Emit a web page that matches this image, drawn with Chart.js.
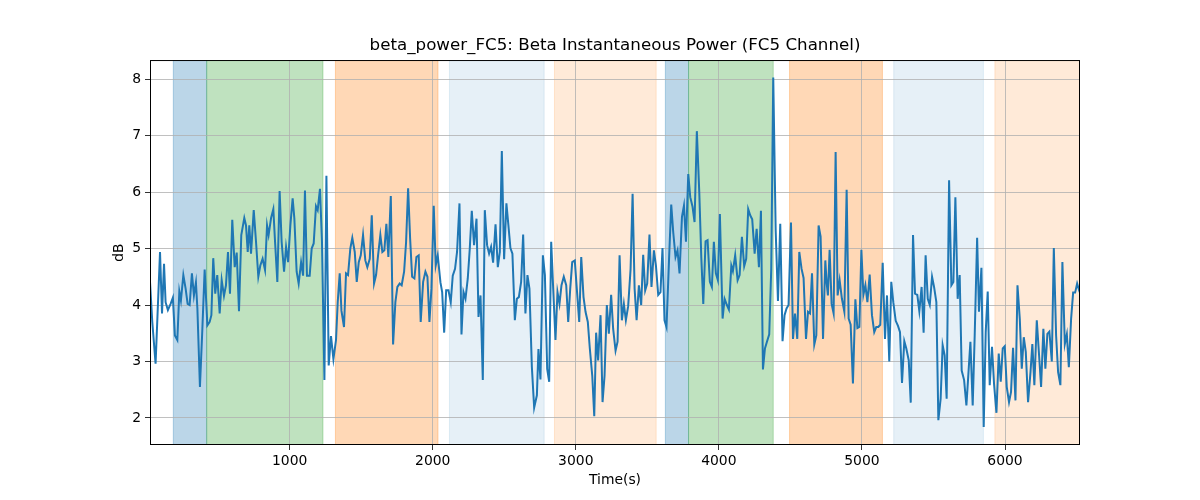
<!DOCTYPE html>
<html>
<head>
<meta charset="utf-8">
<script src="https://cdn.jsdelivr.net/npm/chart.js@4/dist/chart.umd.min.js"></script>
<style>
    body { margin: 0; background: #fff; }
</style>
</head>
<body>
<canvas id="powerChart" width="1200" height="500"></canvas>
<script>
// Time in seconds, beta power in dB
const times = [
    24, 40, 63, 94, 108, 122, 133, 149, 168, 184, 198, 215, 229, 240, 257, 273, 287, 301, 317, 331,
    345, 355, 373, 390, 406, 425, 441, 453, 466, 480, 494, 511, 525, 541, 555, 569, 583, 599, 616, 630,
    646, 662,
    683, 695, 707, 718, 730, 749, 765, 781, 795, 811, 828, 842, 853, 870, 886, 898, 914, 930, 944, 961,
    975, 989, 1005, 1021, 1033, 1049, 1063, 1080, 1094, 1107, 1121, 1140, 1154, 1168, 1184, 1196, 1212, 1226, 1243, 1257,
    1273, 1289, 1306, 1324, 1336, 1350,
    1362, 1380, 1394, 1408, 1424, 1438, 1455, 1469, 1483, 1497, 1513, 1529, 1543, 1560, 1574, 1590, 1604, 1618, 1634, 1648,
    1662, 1676, 1690, 1707, 1723, 1739, 1753, 1769, 1783, 1800, 1814, 1828, 1842, 1856, 1872, 1886, 1902, 1916, 1933, 1949,
    1963, 1977, 1991, 2007, 2021, 2035,
    2054, 2066, 2080, 2094, 2110, 2126, 2140, 2156, 2170, 2187, 2201, 2215, 2229, 2245, 2259, 2273, 2289, 2306, 2320, 2334,
    2350, 2364, 2380, 2394, 2408, 2422, 2439, 2455, 2469, 2483, 2499, 2515, 2529, 2543, 2557, 2574, 2588, 2602, 2618, 2632,
    2648, 2662, 2676, 2693, 2709,
    2728, 2739, 2753, 2770, 2784, 2800, 2814, 2828, 2842, 2858, 2872, 2886, 2900, 2916, 2933, 2947, 2961, 2975, 2993, 3007,
    3024, 3038, 3054, 3068, 3084, 3098, 3115, 3129, 3142, 3156, 3173, 3187, 3201, 3217, 3231, 3247, 3261, 3278, 3292, 3306,
    3322, 3336, 3350, 3366, 3383, 3397,
    3411, 3425, 3441, 3457, 3471, 3485, 3499, 3515, 3529, 3546, 3560, 3576, 3592, 3606, 3620, 3634, 3651, 3667, 3681, 3697,
    3711, 3725, 3742, 3756, 3770, 3786, 3800, 3816, 3830, 3846, 3863, 3877, 3891, 3907, 3921, 3937, 3951, 3965, 3979, 3993,
    4007, 4026, 4040, 4056, 4070,
    4087, 4098, 4114, 4131, 4145, 4161, 4177, 4191, 4205, 4219, 4233, 4250, 4264, 4280, 4294, 4308, 4322, 4336, 4352, 4366,
    4380, 4397, 4413, 4429, 4445, 4459, 4473, 4487, 4504, 4518, 4532, 4548, 4562, 4578, 4592, 4609, 4623, 4637, 4651, 4667,
    4681, 4697, 4711, 4728, 4744,
    4753, 4762, 4774, 4788, 4802, 4816, 4830, 4844, 4860, 4877, 4893, 4907, 4921, 4937, 4954, 4968, 4982, 4996, 5010, 5024,
    5038, 5054, 5070, 5086, 5100, 5114, 5128, 5145, 5161, 5175, 5191, 5205, 5219, 5236, 5252, 5266, 5280, 5296, 5310, 5327,
    5341, 5357, 5371, 5387, 5401, 5417, 5431, 5445,
    5460, 5474, 5490, 5504, 5520, 5534, 5550, 5564, 5578, 5592, 5609, 5625, 5639, 5653, 5669, 5683, 5697, 5714, 5730, 5744,
    5758, 5774, 5788, 5805, 5818, 5835, 5851, 5865, 5879, 5893, 5909, 5923, 5940, 5956, 5970, 5984, 5998, 6012, 6028, 6042,
    6056, 6073, 6087, 6103, 6117, 6131,
    6145, 6161, 6178, 6191, 6205, 6222, 6238, 6252, 6268, 6282, 6296, 6310, 6327, 6341, 6357, 6371, 6387, 6401, 6418, 6432,
    6446, 6462, 6476, 6490, 6504, 6518, 6524,
];

const betaPower = [
    4.41, 3.70, 2.96, 4.94, 3.85, 4.73, 4.05, 3.91, 4.02, 4.13, 3.46, 3.38, 4.24, 4.08, 4.53, 4.29, 4.02, 4.00, 4.56, 4.17,
    4.40, 3.95, 2.55, 3.58, 4.63, 3.64, 3.70, 3.82, 4.83, 4.20, 4.53, 3.85, 4.44, 4.16, 4.35, 4.94, 4.20, 5.51, 4.67, 4.93,
    3.89, 5.24,
    5.54, 5.41, 4.94, 5.41, 4.91, 5.68, 5.12, 4.50, 4.70, 4.82, 4.62, 5.41, 5.24, 5.54, 5.70, 5.12, 4.41, 6.02, 5.12, 4.59,
    5.03, 4.76, 5.41, 5.89, 5.53, 4.59, 4.38, 4.76, 4.52, 6.03, 4.52, 4.52, 5.00, 5.09, 5.75, 5.68, 6.06, 5.12, 2.67, 6.29,
    2.93, 3.45, 3.04, 3.38, 4.05, 4.56,
    3.90, 3.61, 4.56, 4.53, 5.00, 5.19, 4.94, 4.41, 4.76, 4.88, 5.24, 4.79, 4.67, 4.82, 5.59, 4.38, 4.53, 4.88, 5.24, 4.94,
    4.97, 5.44, 4.85, 5.93, 3.30, 4.05, 4.32, 4.38, 4.35, 4.59, 5.12, 6.07, 5.18, 4.50, 4.47, 4.85, 4.88, 3.70, 4.41, 4.59,
    4.50, 3.70, 4.29, 5.76, 4.70, 4.88,
    4.40, 4.23, 3.51, 4.26, 4.26, 4.05, 4.52, 4.64, 4.94, 5.80, 3.48, 4.23, 4.11, 4.47, 5.00, 5.67, 5.06, 5.53, 3.79, 4.17,
    2.67, 5.68, 5.06, 4.91, 5.03, 4.75, 5.43, 4.67, 4.94, 6.73, 4.81, 5.80, 5.41, 5.01, 4.91, 3.73, 4.11, 4.14, 4.41, 5.25,
    3.85, 4.53, 4.29, 2.90, 2.18,
    2.40, 3.22, 2.68, 4.88, 4.53, 2.87, 2.64, 5.12, 4.29, 3.38, 4.23, 4.02, 4.35, 4.50, 4.35, 3.70, 4.29, 4.76, 4.79, 4.29,
    3.70, 4.85, 4.14, 3.88, 3.70, 3.23, 2.75, 2.03, 3.51, 3.02, 3.82, 2.28, 2.75, 4.00, 3.49, 4.18, 3.58, 3.19, 3.35, 4.88,
    3.73, 4.02, 3.73, 3.98, 4.64, 5.97,
    4.29, 3.73, 4.35, 4.00, 4.89, 4.26, 4.38, 5.25, 4.32, 4.97, 4.70, 4.18, 4.23, 5.01, 3.73, 3.61, 4.76, 5.78, 5.29, 4.85,
    4.97, 4.56, 5.56, 5.76, 5.12, 6.32, 5.91, 5.74, 5.47, 7.08, 6.00, 4.85, 4.02, 5.13, 5.15, 4.41, 4.32, 5.12, 4.56, 4.44,
    5.61, 3.76, 4.11, 4.00, 3.92,
    4.70, 4.60, 4.88, 4.44, 4.53, 5.21, 4.69, 4.82, 5.70, 5.59, 5.52, 4.91, 5.35, 4.67, 5.67, 2.86, 3.23, 3.35, 3.48, 4.64,
    8.03, 5.32, 4.07, 5.44, 3.36, 3.82, 3.94, 4.00, 5.46, 3.40, 3.85, 3.40, 4.94, 4.64, 4.48, 3.40, 3.88, 3.85, 4.56, 3.30,
    3.46, 5.41, 5.21, 3.40, 4.79,
    4.40, 4.17, 4.98, 4.02, 3.85, 6.71, 4.17, 4.44, 4.11, 3.88, 6.04, 3.76, 3.65, 2.61, 4.10, 3.59, 3.61, 4.98, 4.18, 4.35,
    4.05, 4.54, 3.82, 3.52, 3.61, 3.61, 3.65, 4.75, 3.40, 4.17, 3.00, 4.41, 4.05, 3.72, 3.63, 3.52, 2.62, 3.36, 3.23, 3.02,
    2.27, 5.24, 4.20, 4.18, 3.89, 4.32, 3.51, 4.88,
    4.11, 4.00, 4.50, 4.32, 4.05, 1.96, 2.34, 3.29, 3.11, 2.34, 6.21, 4.35, 4.41, 5.91, 4.11, 4.53, 2.84, 2.67, 2.22, 2.78,
    3.35, 2.22, 3.46, 5.19, 3.88, 4.66, 1.84, 3.52, 4.24, 2.58, 3.26, 2.61, 2.09, 3.14, 2.64, 3.23, 3.27, 2.55, 2.28, 2.46,
    3.24, 2.31, 4.35, 3.76, 2.87, 3.43,
    3.17, 2.28, 2.81, 3.31, 2.58, 3.73, 3.11, 2.55, 3.58, 2.87, 3.49, 3.53, 3.00, 5.01, 3.46, 2.81, 2.58, 4.76, 3.31, 3.48,
    2.90, 3.76, 4.22, 4.22, 4.38, 4.26, 4.22,
];

// Shaded task phases (seconds)
const spanStart = [187, 420, 1320, 2117, 2851, 3626, 3788, 4494, 5222, 5929];
const spanEnd = [420, 1233, 2037, 2779, 3562, 3788, 4380, 5143, 5849, 6600];
const spanColors = [
    'rgba(31, 119, 180, 0.3)',
    'rgba(44, 160, 44, 0.3)',
    'rgba(255, 127, 14, 0.3)',
    'rgba(31, 119, 180, 0.11)',
    'rgba(255, 127, 14, 0.16)',
    'rgba(31, 119, 180, 0.3)',
    'rgba(44, 160, 44, 0.3)',
    'rgba(255, 127, 14, 0.3)',
    'rgba(31, 119, 180, 0.11)',
    'rgba(255, 127, 14, 0.16)',
];

const xTicks = [1000, 2000, 3000, 4000, 5000, 6000];
const yTicks = [2, 3, 4, 5, 6, 7, 8];

const font = 'DejaVu Sans';

const spanPlugin = {
    id: 'spans',
    beforeDraw(chart) {
        const { ctx, chartArea } = chart;
        const x = chart.scales.x;
        ctx.save();
        ctx.beginPath();
        ctx.rect(chartArea.left, chartArea.top, chartArea.width, chartArea.height);
        ctx.clip();
        spanStart.forEach((start, i) => {
            const x0 = x.getPixelForValue(start);
            const x1 = x.getPixelForValue(spanEnd[i]);
            ctx.fillStyle = spanColors[i];
            ctx.fillRect(x0, chartArea.top, x1 - x0, chartArea.height);
            ctx.strokeStyle = spanColors[i];
            ctx.lineWidth = 1;
            ctx.strokeRect(x0, chartArea.top, x1 - x0, chartArea.height);
        });
        ctx.restore();
    },
};

const framePlugin = {
    id: 'frame',
    afterDraw(chart) {
        const { ctx, chartArea } = chart;
        ctx.save();
        ctx.strokeStyle = '#000';
        ctx.lineWidth = 1;
        ctx.strokeRect(chartArea.left + 0.5, chartArea.top + 0.5, chartArea.width - 1, chartArea.height - 1);
        ctx.restore();
    },
};

const powerChart = document.getElementById('powerChart').getContext('2d');

new Chart(powerChart, {
    type: 'line',
    data: {
        datasets: [
            {
                label: 'beta_power_FC5',
                data: times.map((t, i) => ({ x: t, y: betaPower[i] })),
                borderColor: '#1f77b4',
                borderWidth: 2,
                pointRadius: 0,
                tension: 0,
                fill: false,
            },
        ],
    },
    options: {
        responsive: false,
        animation: false,
        layout: { padding: { left: 0, right: 120, top: 0, bottom: 0 } },
        plugins: {
            legend: { display: false },
            tooltip: { enabled: false },
            title: {
                display: true,
                text: 'beta_power_FC5: Beta Instantaneous Power (FC5 Channel)',
                color: '#000',
                fullSize: false,
                font: { family: font, size: 16.7, weight: 'normal' },
                padding: { top: 36, bottom: 4 },
            },
        },
        scales: {
            x: {
                type: 'linear',
                min: 24,
                max: 6524,
                afterBuildTicks: scale => {
                    scale.ticks = xTicks.map(v => ({ value: v }));
                },
                afterFit: scale => {
                    scale.height = 55;
                },
                ticks: {
                    color: '#000',
                    font: { family: font, size: 13.9 },
                    padding: 3,
                    maxRotation: 0,
                    callback: v => String(v),
                },
                grid: {
                    color: '#b0b0b0',
                    lineWidth: 0.8,
                    tickColor: '#000',
                    tickLength: 5,
                },
                border: { display: false },
                title: {
                    display: true,
                    text: 'Time(s)',
                    color: '#000',
                    font: { family: font, size: 13.9 },
                    padding: { top: 0, bottom: 11 },
                },
            },
            y: {
                type: 'linear',
                min: 1.52,
                max: 8.34,
                afterBuildTicks: scale => {
                    scale.ticks = yTicks.map(v => ({ value: v }));
                },
                afterFit: scale => {
                    scale.width = 150;
                },
                ticks: {
                    color: '#000',
                    font: { family: font, size: 13.9 },
                    padding: 4,
                    callback: v => String(v),
                },
                grid: {
                    color: '#b0b0b0',
                    lineWidth: 0.8,
                    tickColor: '#000',
                    tickLength: 5,
                },
                border: { display: false },
                title: {
                    display: true,
                    text: 'dB',
                    color: '#000',
                    font: { family: font, size: 13.9 },
                    padding: { top: 111, bottom: 0 },
                },
            },
        },
    },
    plugins: [spanPlugin, framePlugin],
});
</script>
</body>
</html>
